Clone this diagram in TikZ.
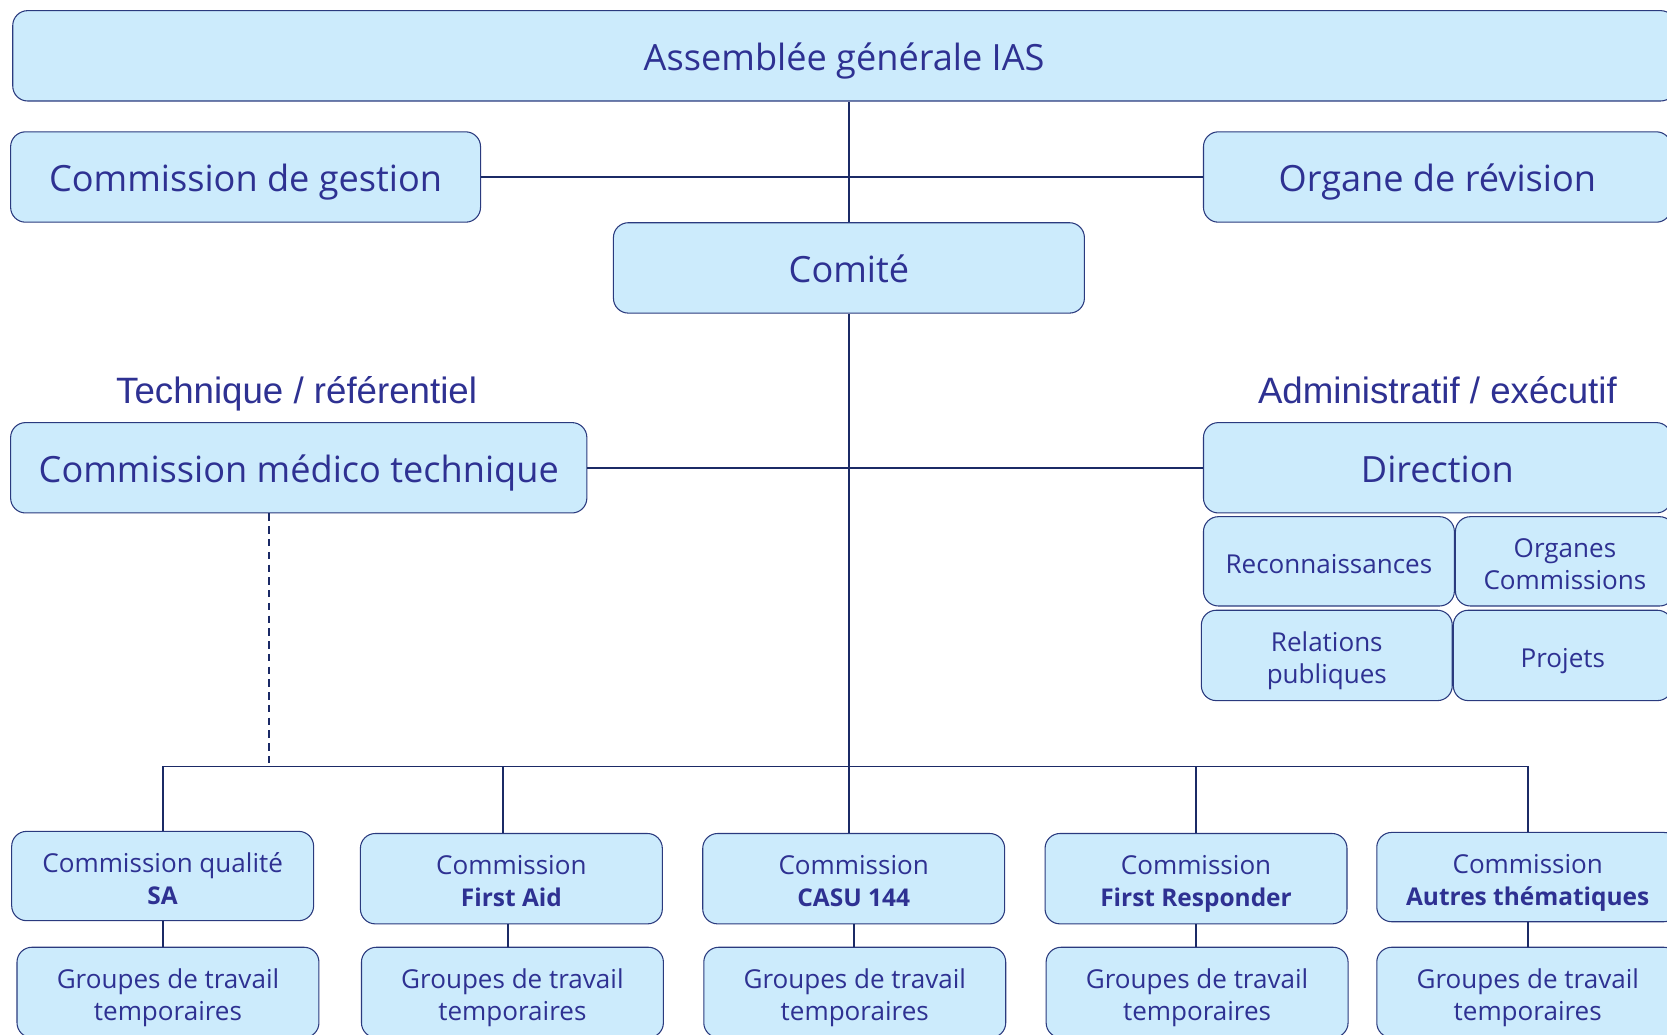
\documentclass[tikz,border=0pt]{standalone}
\usepackage{fontspec}
\setmainfont{Open Sans}
\newfontfamily\headfont{Liberation Sans}
\usetikzlibrary{calc}

\definecolor{boxfill}{HTML}{CCEBFC}
\definecolor{boxline}{HTML}{2A3A7E}
\definecolor{boxtext}{HTML}{2E3192}
\definecolor{linkcol}{HTML}{1B2A66}

\newcommand\thema[1]{{\fontsize{23}{30}\selectfont\bfseries #1}}

\begin{document}
\begin{tikzpicture}[x=1pt, y=-1pt]
\tikzset{
  unit/.style={draw=boxline, fill=boxfill, text=boxtext, line width=1pt,
               rounded corners=14pt, align=center, inner sep=0pt},
  big/.style={unit, minimum height=85pt, text height=32pt, text depth=5pt,
              font=\fontsize{34}{40}\selectfont},
  small/.style={unit, minimum height=85pt, text height=28pt, text depth=5pt,
                font=\fontsize{24.5}{30}\selectfont},
  double/.style={small, text height=58pt, text depth=5pt},
  link/.style={draw=linkcol, line width=1.7pt},
  side/.style={text=boxtext, text height=30pt, text depth=4pt,
               font=\headfont\fontsize{34.5}{40}\selectfont}
  };

\useasboundingbox (0,0) rectangle (1568,973);

\node[big, minimum width=1564pt] (AG)     at (794,52.5)  {Assemblée générale IAS};
\node[big, minimum width=442pt]  (Gest)   at (231,166.5) {Commission de gestion};
\node[big, minimum width=440pt]  (Rev)    at (1352,166.5){Organe de révision};
\node[big, minimum width=443pt]  (Comite) at (798.5,252) {Comité};

\node[side] (Tech)  at (279,367)  {Technique / référentiel};
\node[side] (Admin) at (1352,367) {Administratif / exécutif};

\node[big, minimum width=542pt] (Medico) at (281,440)  {Commission médico technique};
\node[big, minimum width=440pt] (Dir)    at (1352,440) {Direction};

\node[small, minimum width=236pt, minimum height=84pt]  (Reco) at (1250,528)   {Reconnaissances};
\node[double, minimum width=206pt, minimum height=84pt] (Org)  at (1472,528)   {Organes\\Commissions};
\node[double, minimum width=236pt] (RP)   at (1248,616.5) {Relations\\publiques};
\node[small, minimum width=206pt]  (Proj) at (1470,616.5) {Projets};

% commissions
\node[double, minimum width=284pt, minimum height=84pt] (SA)   at (153,824)   {Commission qualité\\\thema{SA}};
\node[double, minimum width=284pt] (FA)   at (481,826.5)  {Commission\\\thema{First Aid}};
\node[double, minimum width=284pt] (CASU) at (803,826.5)  {Commission\\\thema{CASU 144}};
\node[double, minimum width=284pt] (FR)   at (1125,826.5) {Commission\\\thema{First Responder}};
\node[double, minimum width=284pt, minimum height=84pt] (AT)   at (1437,825)   {Commission\\\thema{Autres thématiques}};

% groupes de travail
\node[double, minimum width=284pt] (GSA)   at (158,933.5)  {Groupes de travail\\temporaires};
\node[double, minimum width=284pt] (GFA)   at (482,933.5)  {Groupes de travail\\temporaires};
\node[double, minimum width=284pt] (GCASU) at (804,933.5)  {Groupes de travail\\temporaires};
\node[double, minimum width=284pt] (GFR)   at (1126,933.5) {Groupes de travail\\temporaires};
\node[double, minimum width=284pt] (GAT)   at (1437,933.5) {Groupes de travail\\temporaires};

\coordinate (bus) at (798,721);

\draw[link] (Comite.north) -- (Comite.north |- AG.south);
\draw[link] (Gest) -- (Rev);
\draw[link] (Medico) -- (Dir);
\draw[link] (Comite.south) -- (Comite.south |- CASU.north);

\draw[link] (SA.north) |- (bus) -| (AT.north);
\draw[link] ([xshift=-8pt]FA.north) -- ([xshift=-8pt]FA.north |- bus);
\draw[link] (FR.north) -- (FR.north |- bus);
\draw[link, line width=1.3pt, dash pattern=on 7pt off 5pt]
  ([xshift=-28pt]Medico.south) -- ([xshift=-28pt]Medico.south |- bus);

\draw[link] (SA.south)   -- (SA.south |- GSA.north);
\draw[link] ([xshift=-3pt]FA.south) -- ([xshift=-3pt]FA.south |- GFA.north);
\draw[link] (CASU.south) -- (CASU.south |- GCASU.north);
\draw[link] (FR.south)   -- (FR.south |- GFR.north);
\draw[link] (AT.south)   -- (AT.south |- GAT.north);

\end{tikzpicture}
\end{document}
